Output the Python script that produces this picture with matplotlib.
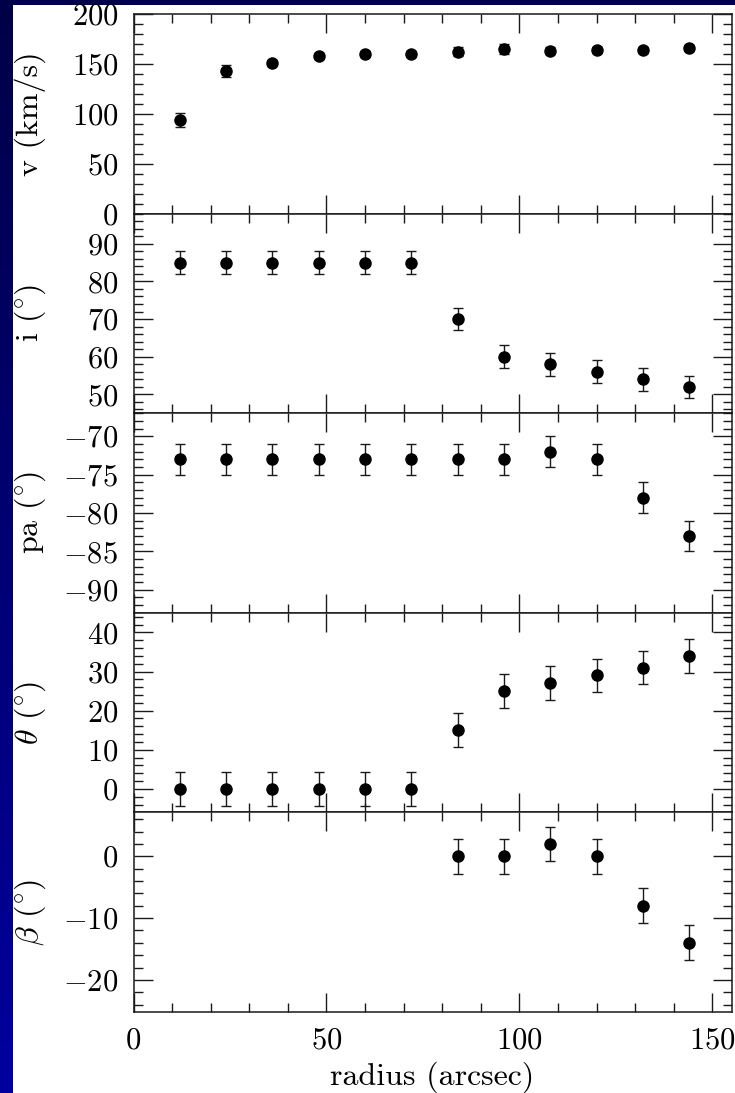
import numpy as np
import matplotlib
matplotlib.use("Agg")
import matplotlib.pyplot as plt
from matplotlib.ticker import MultipleLocator
from matplotlib.colors import LinearSegmentedColormap

# ring radii (arcsec)
radius = [12, 24, 36, 48, 60, 72, 84, 96, 108, 120, 132, 144]

# rotation velocity (km/s)
vel = [94, 143, 151, 158, 160, 160, 162, 165, 163, 164, 164, 166]
vel_err = [7, 6, 3, 3, 3, 3, 4.5, 5, 3.5, 3, 3, 3]

# inclination (deg)
incl = [85, 85, 85, 85, 85, 85, 70, 60, 58, 56, 54, 52]
incl_err = [3] * 12

# position angle (deg)
pa = [-73, -73, -73, -73, -73, -73, -73, -73, -72, -73, -78, -83]
pa_err = [2] * 12

# warp angle theta (deg)
theta = [0, 0, 0, 0, 0, 0, 15, 25, 27, 29, 31, 34]
theta_err = [4.3] * 12

# beta (deg), outer rings only
beta_radius = [84, 96, 108, 120, 132, 144]
beta = [0, 0, 2, 0, -8, -14]
beta_err = [2.8] * 6

plt.rcParams.update({
    "font.family": "serif",
    "font.serif": ["cmr10"],
    "mathtext.fontset": "cm",
    "axes.formatter.use_mathtext": True,
    "axes.unicode_minus": True,
    "font.size": 22,
})

W, H = 735, 1093
fig = plt.figure(figsize=(W / 100, H / 100), dpi=100, facecolor="white")

# slide background strips
grad = np.linspace(0, 1, 256)[:, None]
slide = LinearSegmentedColormap.from_list("slide", ["#00009e", "#000048"])
side = fig.add_axes([0, 0, 12 / W, 1], zorder=-5)
side.imshow(grad, aspect="auto", cmap=slide, origin="lower", extent=[0, 1, 0, 1])
side.axis("off")
top = fig.add_axes([0, 1 - 5 / H, 1, 5 / H], zorder=-5)
top.set_facecolor("#000048")
top.set_xticks([])
top.set_yticks([])
for s in top.spines.values():
    s.set_visible(False)

left, right = 133.5 / W, 731.7 / W
y_top, y_bot = 14 / H, 1012 / H
ph = (1 - y_top - (1 - y_bot)) / 5

panels = [
    (radius, vel, vel_err, (0, 200), 50, 10, "v (km/s)"),
    (radius, incl, incl_err, (45, 98), 10, 2, r"i ($^{\circ}$)"),
    (radius, pa, pa_err, (-93, -67), 5, 1, r"pa ($^{\circ}$)"),
    (radius, theta, theta_err, (-6, 45), 10, 2, r"$\theta$ ($^{\circ}$)"),
    (beta_radius, beta, beta_err, (-25.2, 7.1), 10, 2, r"$\beta$ ($^{\circ}$)"),
]

ink = "#1a1a1a"
axes = []
for k, (xs, ys, es, ylim, major, minor, label) in enumerate(panels):
    bottom = 1 - y_top - (k + 1) * ph
    ax = fig.add_axes([left, bottom, right - left, ph])
    ax.errorbar(xs, ys, yerr=es, fmt="o", color="black", ms=8,
                ecolor=ink, elinewidth=1.0, capsize=3.6, capthick=1.0)
    ax.set_xlim(0, 155)
    ax.set_ylim(*ylim)
    ax.xaxis.set_major_locator(MultipleLocator(50))
    ax.xaxis.set_minor_locator(MultipleLocator(10))
    ax.yaxis.set_major_locator(MultipleLocator(major))
    ax.yaxis.set_minor_locator(MultipleLocator(minor))
    ax.tick_params(which="both", direction="in", top=True, right=True,
                   color=ink, width=1.0)
    ax.tick_params(which="major", length=13.5, pad=11)
    ax.tick_params(which="minor", length=6.5)
    for s in ax.spines.values():
        s.set_color(ink)
        s.set_linewidth(1.1)
    ax.set_ylabel(label, fontsize=23)
    ax.yaxis.label.set_verticalalignment("center")
    ax.yaxis.set_label_coords((30 - 133.5) / (731.7 - 133.5), 0.5)
    if k < 4:
        ax.tick_params(labelbottom=False)
    axes.append(ax)

axes[-1].set_xlabel("radius (arcsec)", fontsize=23, labelpad=5)

fig.savefig("out.png", dpi=100, facecolor="white")
